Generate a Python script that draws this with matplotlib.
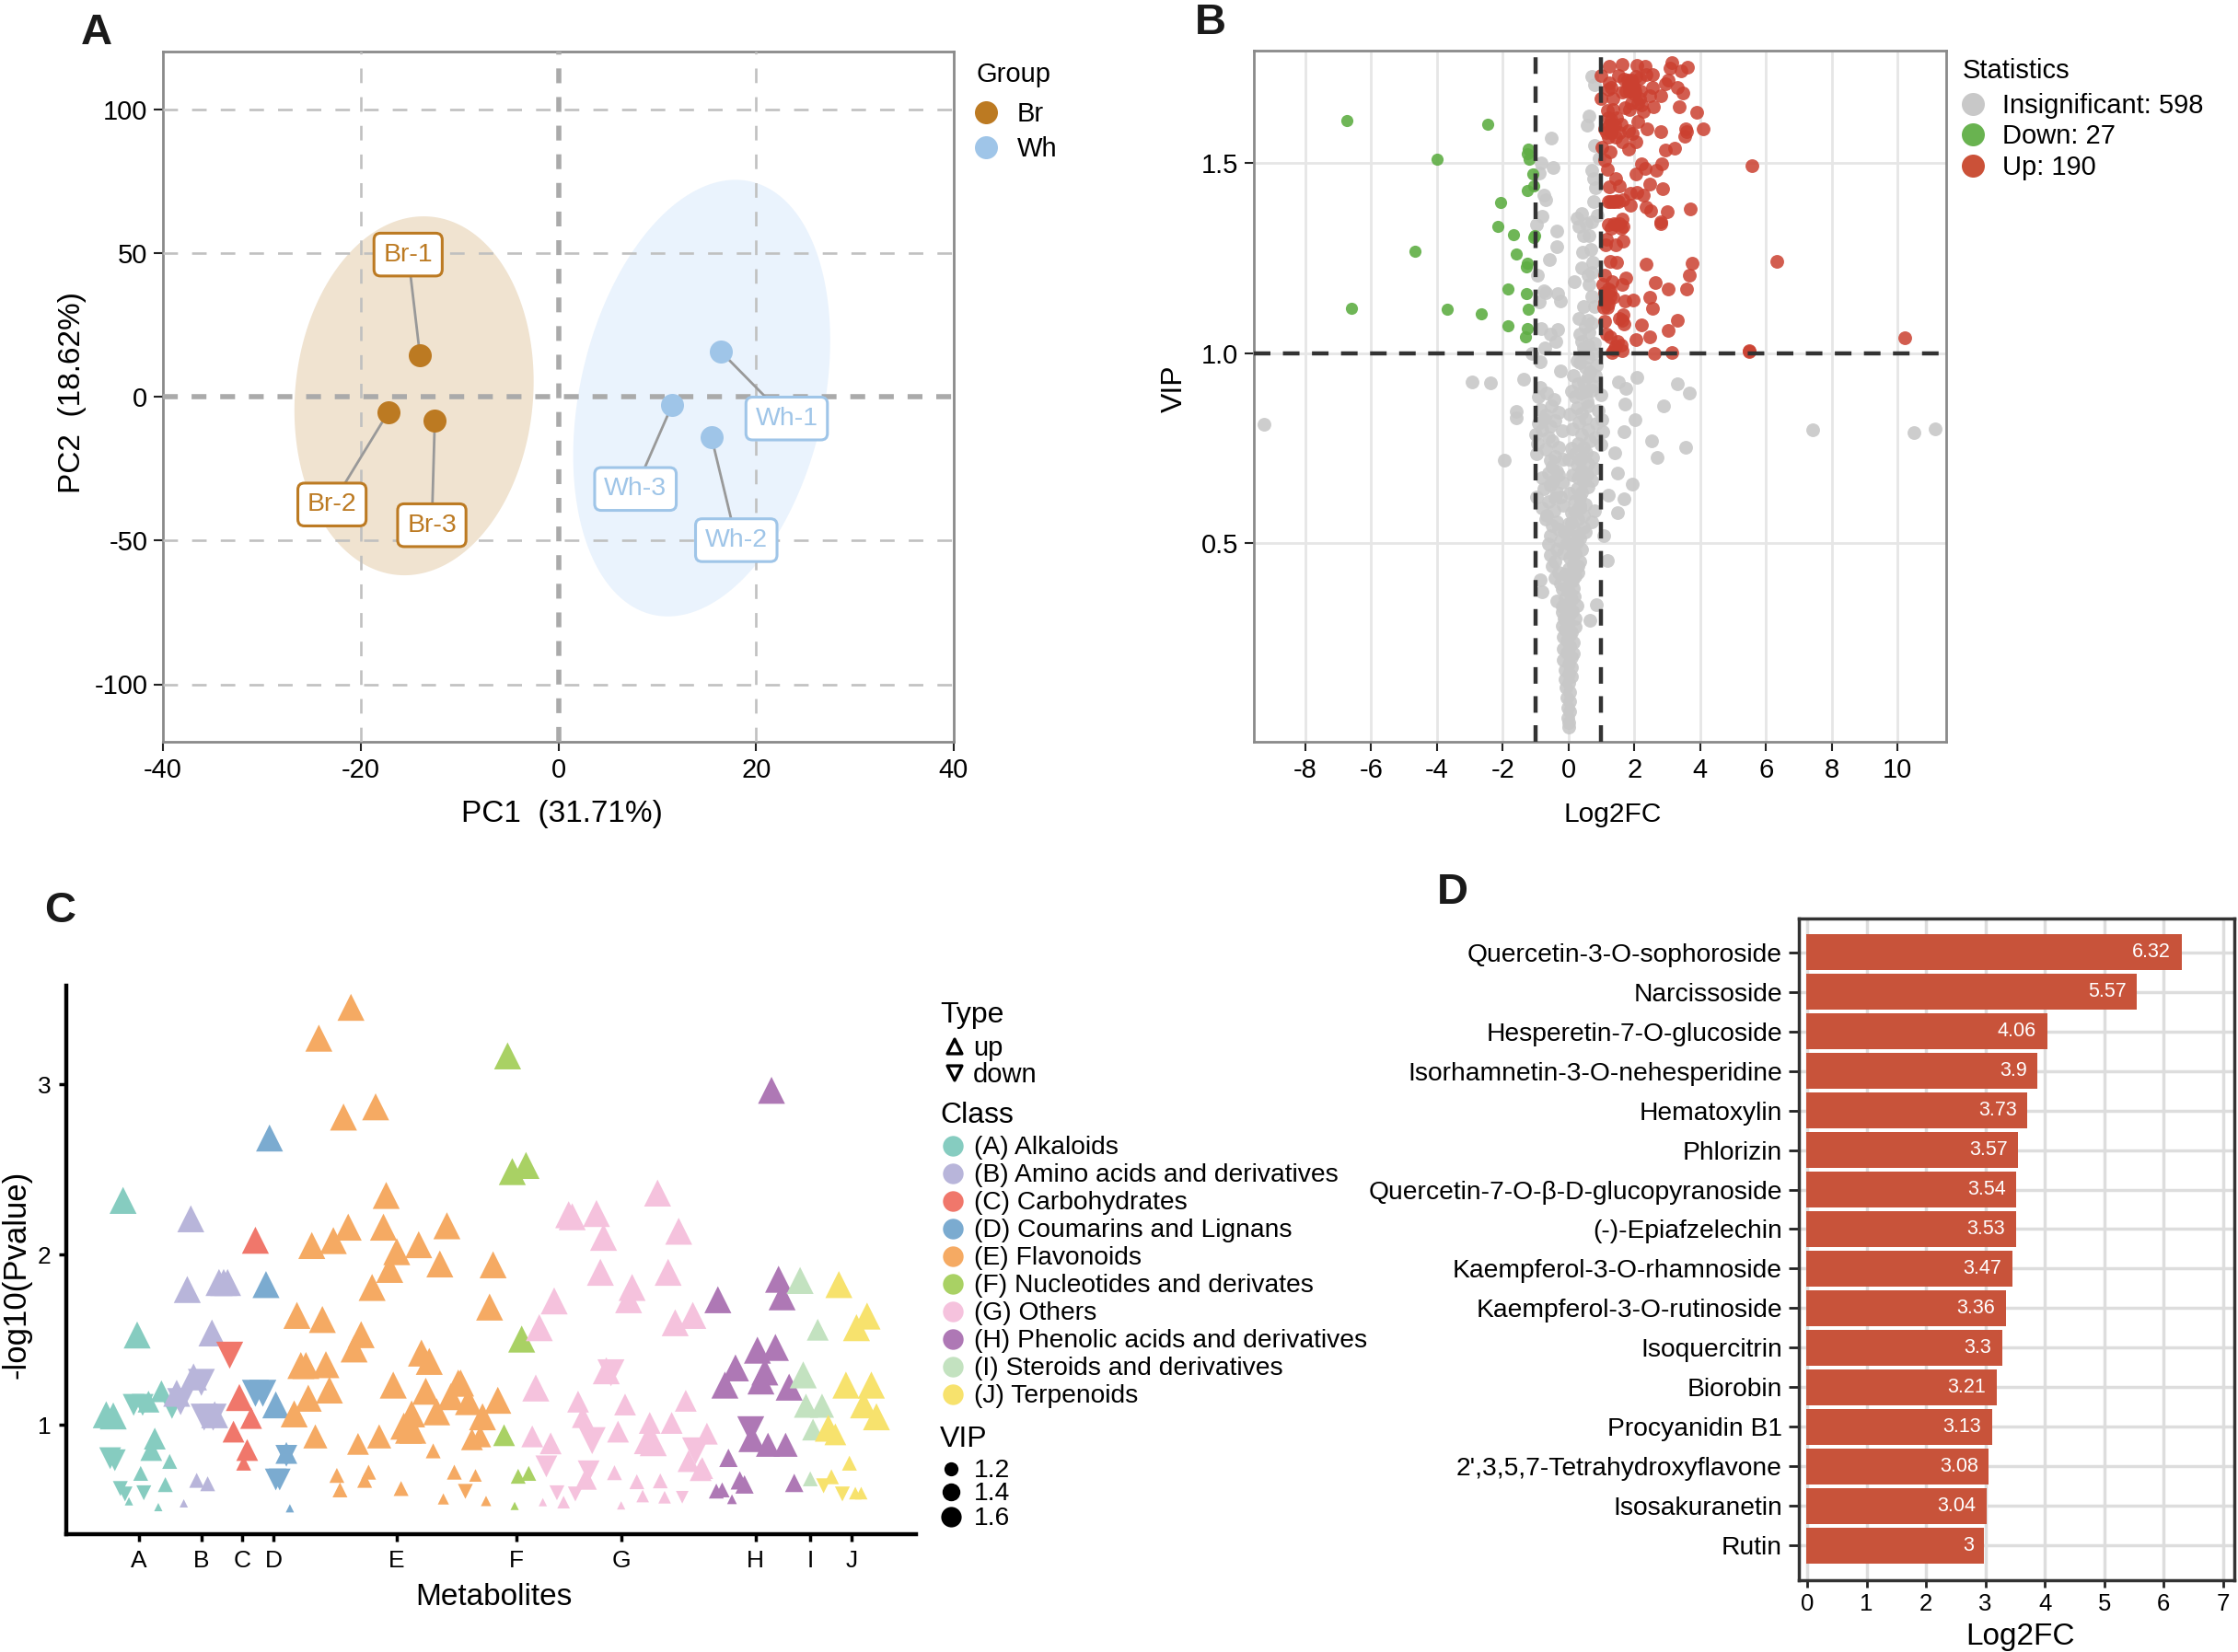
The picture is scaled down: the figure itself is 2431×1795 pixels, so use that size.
import matplotlib
matplotlib.use("Agg")
import matplotlib.pyplot as plt
import numpy as np

plt.rcParams["font.family"] = ["Liberation Sans", "DejaVu Sans"]
plt.rcParams["axes.unicode_minus"] = False

W, H = 2431, 1795
DPI = 100

## PANEL A DATA ##
pc_names = ["Br-1", "Br-2", "Br-3", "Wh-1", "Wh-2", "Wh-3"]
pc1 = [-14.0, -17.2, -12.5, 16.4, 15.5, 11.5]
pc2 = [14.4, -5.4, -8.3, 15.8, -14.2, -3.0]
label_x = [-15.2, -22.9, -12.8, 23.1, 18.0, 7.8]
label_y = [49.4, -37.5, -44.7, -7.6, -49.9, -32.1]
# centre x, centre y, half width, half height, tilt
ellipse_br = [-14.6, 0.3, 12.1, 62.4, 5.0]
ellipse_wh = [14.5, -0.5, 13.0, 75.9, 20.0]

## PANEL B DATA ##
green_pts = [(-6.74, 1.613), (-2.46, 1.603), (-4.00, 1.511), (-1.25, 1.526), (-1.21, 1.537), (-1.19, 1.511),
             (-1.08, 1.472), (-1.06, 1.441), (-1.24, 1.428), (-2.07, 1.396), (-2.14, 1.333), (-1.67, 1.311),
             (-1.06, 1.305), (-1.03, 1.309), (-4.66, 1.268), (-1.59, 1.262), (-1.25, 1.236), (-1.27, 1.228),
             (-1.83, 1.169), (-1.29, 1.156), (-6.59, 1.117), (-3.68, 1.116), (-2.64, 1.104), (-1.21, 1.116),
             (-1.83, 1.071), (-1.24, 1.065), (-1.30, 1.042)]

red_pts = [(5.58, 1.495), (6.33, 1.241), (10.23, 1.041), (5.48, 1.006), (5.50, 1.003),
           (1.24, 1.756), (1.64, 1.761), (2.09, 1.759), (2.32, 1.755), (3.15, 1.766), (3.09, 1.752), (3.41, 1.744),
           (3.63, 1.753), (1.00, 1.732), (1.51, 1.732), (1.70, 1.723), (1.91, 1.719), (2.15, 1.725), (2.36, 1.735),
           (2.56, 1.733), (2.96, 1.71), (3.04, 1.719), (3.31, 1.701), (3.49, 1.685), (1.21, 1.695), (1.24, 1.713),
           (1.64, 1.689), (1.83, 1.707), (1.99, 1.701), (1.99, 1.683), (2.15, 1.671), (2.56, 1.701), (2.48, 1.679),
           (2.81, 1.677), (1.00, 1.671), (1.35, 1.671), (2.23, 1.653), (2.59, 1.65), (3.38, 1.65), (1.35, 1.643),
           (1.72, 1.647), (1.85, 1.641), (2.27, 1.638), (3.91, 1.634), (1.30, 1.616), (1.32, 1.602), (1.11, 1.59),
           (1.59, 1.602), (1.83, 1.586), (1.95, 1.578), (2.11, 1.61), (2.40, 1.59), (2.80, 1.583), (3.57, 1.592),
           (3.59, 1.583), (3.54, 1.571), (4.08, 1.59), (1.43, 1.568), (1.64, 1.556), (1.83, 1.538), (2.04, 1.556),
           (2.96, 1.534), (3.23, 1.54), (1.02, 1.542), (1.27, 1.53), (1.11, 1.508), (1.19, 1.484), (1.43, 1.46),
           (2.23, 1.499), (2.32, 1.486), (2.04, 1.472), (2.67, 1.481), (2.83, 1.499), (1.24, 1.439), (1.56, 1.441),
           (1.88, 1.421), (2.07, 1.423), (2.48, 1.445), (2.85, 1.433), (2.27, 1.417), (1.27, 1.399), (1.46, 1.402),
           (1.67, 1.404), (1.87, 1.39), (2.36, 1.385), (2.51, 1.375), (3.01, 1.373), (3.71, 1.38), (1.21, 1.339),
           (1.43, 1.339), (1.64, 1.353), (1.67, 1.333), (2.81, 1.345), (2.81, 1.341), (1.14, 1.285), (1.43, 1.285),
           (1.67, 1.294), (1.27, 1.242), (1.46, 1.24), (2.35, 1.235), (3.75, 1.238), (3.68, 1.205), (1.11, 1.206),
           (1.03, 1.182), (1.32, 1.188), (1.75, 1.197), (1.64, 1.182), (2.65, 1.186), (3.04, 1.17), (3.59, 1.17),
           (1.27, 1.164), (1.35, 1.146), (1.11, 1.134), (1.72, 1.138), (1.96, 1.141), (2.48, 1.148), (2.56, 1.119),
           (1.56, 1.092), (1.64, 1.086), (1.70, 1.077), (1.11, 1.083), (2.23, 1.074), (3.30, 1.086), (3.04, 1.059),
           (1.27, 1.043), (2.48, 1.043), (2.04, 1.035), (1.43, 1.019), (1.64, 1.007), (1.32, 1.001), (2.60, 1.0),
           (3.15, 1.002), (1.30, 1.70), (1.45, 1.62), (1.55, 1.58), (1.75, 1.69), (1.90, 1.66), (1.18, 1.64),
           (1.20, 1.57), (1.12, 1.15), (1.22, 1.13), (1.15, 1.30), (1.30, 1.33), (1.35, 1.40), (1.52, 1.40),
           (1.80, 1.72), (1.88, 1.70), (1.95, 1.71), (1.85, 1.69), (2.02, 1.69), (1.40, 1.60), (1.25, 1.60),
           (1.22, 1.62), (1.30, 1.58), (1.15, 1.58), (1.38, 1.34), (1.55, 1.34), (1.60, 1.33), (1.20, 1.40),
           (1.40, 1.40), (1.10, 1.16), (1.22, 1.17), (1.28, 1.15), (1.18, 1.12), (1.08, 1.12), (1.38, 1.01),
           (1.50, 1.03), (1.60, 1.02), (1.66, 1.10), (1.15, 1.05), (2.10, 1.66), (2.20, 1.69), (2.05, 1.73)]

gray_outer = [(-9.24, 0.813), (7.41, 0.797), (10.51, 0.79), (11.14, 0.80), (-2.94, 0.924), (-2.38, 0.922),
              (-1.35, 0.932), (-1.95, 0.717), (-1.59, 0.847), (-1.59, 0.83), (2.09, 0.937), (1.51, 0.923),
              (1.75, 0.908), (3.30, 0.919), (3.68, 0.896), (2.89, 0.861), (1.72, 0.866), (2.03, 0.825),
              (1.69, 0.794), (2.52, 0.768), (3.55, 0.752), (2.70, 0.725), (1.40, 0.737), (1.50, 0.683),
              (1.93, 0.654), (1.70, 0.615), (1.22, 0.625), (1.50, 0.579), (1.17, 0.454), (1.08, 0.519),
              (0.84, 0.338), (0.66, 0.296)]
gray_upper = [(-0.51, 1.566), (-0.47, 1.49), (-0.82, 1.502), (-0.90, 1.474), (-0.74, 1.417), (-0.69, 1.405),
              (-0.98, 1.339), (-0.35, 1.321), (-0.35, 1.281), (-0.58, 1.246), (-0.93, 1.206), (-0.74, 1.164),
              (-0.34, 1.158), (-0.24, 1.138), (-0.90, 1.134), (-0.82, 1.064), (-0.34, 1.062), (-0.37, 1.031),
              (-0.71, 1.013), (-1.11, 0.999), (-0.87, 0.977), (-0.24, 0.953), (0.71, 1.729), (0.79, 1.707),
              (0.63, 1.626), (0.58, 1.60), (0.79, 1.548), (0.92, 1.514), (0.71, 1.481), (0.76, 1.46),
              (0.82, 1.435), (0.76, 1.399), (0.39, 1.369), (0.31, 1.333), (0.87, 1.363), (0.63, 1.309),
              (0.43, 1.267), (0.68, 1.273), (0.39, 1.224), (0.71, 1.212), (0.19, 1.188), (0.63, 1.182),
              (0.47, 1.122), (0.79, 1.122), (0.31, 1.092), (0.59, 1.086), (0.34, 1.049), (0.63, 1.055),
              (0.79, 1.025), (0.47, 1.013), (0.25, 1.355), (0.55, 1.34), (0.72, 1.345), (0.45, 1.31),
              (0.75, 1.24), (0.60, 1.205), (0.70, 1.15), (0.50, 1.07), (0.70, 1.08), (0.40, 1.03),
              (0.60, 1.02), (-0.80, 1.36), (-0.70, 1.16), (-0.55, 1.05)]
gray_lower = [(0.35, 0.975), (0.52, 0.962), (0.66, 0.951), (0.86, 0.968), (0.47, 0.925), (0.60, 0.938), (0.74, 0.915),
              (-0.85, 0.91), (0.21, 0.885), (0.36, 0.895), (0.56, 0.872), (0.71, 0.902), (1.00, 0.89), (-0.91, 0.885),
              (-0.66, 0.895), (-0.45, 0.878), (0.26, 0.855), (0.41, 0.842), (0.61, 0.862), (0.90, 0.848), (-0.85, 0.852),
              (-0.70, 0.838), (-0.51, 0.862), (-0.30, 0.845), (0.31, 0.818), (0.51, 0.828), (0.85, 0.815), (1.02, 0.825),
              (-0.92, 0.815), (-0.76, 0.828), (-0.56, 0.808), (-0.41, 0.822), (0.40, 0.785), (0.60, 0.798), (0.81, 0.778),
              (1.05, 0.792), (-1.01, 0.785), (-0.81, 0.798), (-0.61, 0.778), (-0.20, 0.795), (0.30, 0.762), (0.45, 0.752),
              (0.66, 0.768), (1.00, 0.758), (-0.95, 0.762), (-0.70, 0.748), (-0.50, 0.768), (-0.30, 0.752), (0.20, 0.735),
              (0.40, 0.722), (0.55, 0.738), (0.75, 0.725), (-0.96, 0.735), (-0.55, 0.718), (-0.40, 0.728), (0.25, 0.705),
              (0.41, 0.692), (0.60, 0.708), (0.80, 0.695), (-0.50, 0.702), (-0.35, 0.688), (0.30, 0.672), (0.45, 0.662),
              (0.56, 0.678), (0.70, 0.665), (-0.80, 0.672), (-0.60, 0.685), (-0.46, 0.662), (-0.30, 0.678), (0.25, 0.642),
              (0.40, 0.632), (0.60, 0.648), (-0.76, 0.642), (-0.55, 0.652), (-0.35, 0.632), (0.20, 0.612), (0.35, 0.622),
              (0.50, 0.602), (-0.96, 0.622), (-0.60, 0.608), (-0.40, 0.618), (0.20, 0.582), (0.35, 0.592), (0.46, 0.572),
              (0.80, 0.585), (-0.80, 0.592), (-0.66, 0.572), (-0.45, 0.585), (0.10, 0.552), (0.30, 0.562), (0.45, 0.542),
              (0.70, 0.555), (-0.70, 0.562), (-0.50, 0.545), (-0.36, 0.555), (0.05, 0.522), (0.20, 0.532), (0.35, 0.512),
              (0.50, 0.528), (-0.55, 0.518), (-0.30, 0.535), (0.10, 0.492), (0.25, 0.502), (0.40, 0.482), (-0.60, 0.498),
              (-0.35, 0.482), (-0.25, 0.505), (0.05, 0.462), (0.20, 0.472), (0.35, 0.452), (-0.55, 0.468), (-0.40, 0.452),
              (-0.15, 0.472), (0.00, 0.432), (0.15, 0.442), (0.30, 0.422), (-0.50, 0.438), (-0.30, 0.422), (0.05, 0.402),
              (0.20, 0.412), (-0.85, 0.402), (-0.40, 0.408), (-0.25, 0.392), (-0.10, 0.418), (0.00, 0.372), (0.15, 0.382),
              (-0.80, 0.372), (-0.20, 0.378), (0.00, 0.342), (0.10, 0.352), (0.25, 0.335), (-0.35, 0.348), (-0.20, 0.332),
              (-0.10, 0.355), (0.05, 0.312), (0.20, 0.302), (-0.20, 0.318), (-0.10, 0.298), (-0.20, 0.282), (-0.10, 0.272),
              (0.00, 0.288), (0.10, 0.265), (0.20, 0.278), (-0.15, 0.252), (-0.05, 0.242), (0.05, 0.258), (0.15, 0.238),
              (-0.15, 0.222), (-0.05, 0.212), (0.05, 0.228), (0.15, 0.208), (-0.15, 0.192), (0.00, 0.182), (0.10, 0.198),
              (-0.10, 0.165), (0.02, 0.155), (0.10, 0.172), (-0.10, 0.142), (0.00, 0.132), (0.08, 0.148), (-0.08, 0.118),
              (0.04, 0.108), (-0.05, 0.092), (0.05, 0.082), (-0.03, 0.066), (0.04, 0.055), (-0.02, 0.04), (0.02, 0.028),
              (0.00, 0.015)]
gray_centre = [(0.10, 0.90), (0.05, 0.84), (0.12, 0.80), (0.08, 0.75), (0.00, 0.72), (0.12, 0.68), (0.05, 0.63),
               (0.10, 0.58), (0.02, 0.55), (-0.05, 0.50), (-0.12, 0.53), (-0.15, 0.60), (-0.20, 0.66), (-0.15, 0.72),
               (-0.25, 0.62), (0.15, 0.94), (0.25, 0.98), (0.45, 1.00), (0.60, 0.99), (0.75, 1.00), (0.82, 0.94),
               (0.30, 0.92), (0.55, 0.90), (0.35, 0.72), (0.50, 0.68), (0.35, 0.60), (0.28, 0.52), (0.20, 0.50),
               (0.12, 0.47), (0.28, 0.44), (0.18, 0.36), (-0.05, 0.38), (0.12, 0.40), (-0.12, 0.30), (0.12, 0.32)]

## PANEL C DATA, (rank, -log10 p, VIP) ##
class_names = ["(A) Alkaloids", "(B) Amino acids and derivatives", "(C) Carbohydrates", "(D) Coumarins and Lignans",
               "(E) Flavonoids", "(F) Nucleotides and derivates", "(G) Others", "(H) Phenolic acids and derivatives",
               "(I) Steroids and derivatives", "(J) Terpenoids"]
class_colors = ["#86CCC0", "#B8B5DA", "#F0776B", "#7BABD0", "#F5AA63", "#A9D164", "#F5C2DD", "#AE78B5", "#C3E2C0", "#F7E26D"]
class_ticks = ["A", "B", "C", "D", "E", "F", "G", "H", "I", "J"]
class_tick_pos = [18.6, 34.5, 45.0, 53.0, 84.4, 115.0, 141.8, 176.0, 190.0, 200.5]

up_a = [(14.5, 2.318, 1.7), (18.1, 1.528, 1.7), (10.2, 1.06, 1.7), (12.0, 1.053, 1.7), (21.0, 1.137, 1.52),
        (24.3, 1.198, 1.52), (22.6, 0.92, 1.52), (21.7, 0.853, 1.52), (26.4, 0.786, 1.28), (19.0, 0.716, 1.28),
        (25.3, 0.65, 1.28), (16.0, 0.552, 1.05), (23.5, 0.518, 1.05)]
down_a = [(17.2, 1.118, 1.52), (19.5, 1.118, 1.52), (27.0, 1.10, 1.52), (11.2, 0.805, 1.52), (12.4, 0.793, 1.52),
          (13.8, 0.627, 1.28), (15.0, 0.595, 1.28), (19.8, 0.602, 1.28)]
up_b = [(31.8, 2.21, 1.7), (30.9, 1.795, 1.7), (39.0, 1.836, 1.7), (40.2, 1.836, 1.7), (41.2, 1.836, 1.7),
        (37.2, 1.54, 1.7), (32.5, 1.282, 1.7), (28.2, 1.186, 1.7), (37.9, 1.06, 1.7), (33.3, 0.675, 1.28),
        (36.1, 0.655, 1.28), (30.0, 0.54, 1.05)]
down_b = [(34.5, 1.25, 1.7), (29.2, 1.137, 1.7), (35.2, 1.046, 1.7), (37.5, 1.046, 1.7)]
up_c = [(48.3, 2.084, 1.7), (44.2, 1.161, 1.7), (47.2, 1.041, 1.52), (42.7, 0.961, 1.52), (46.2, 0.853, 1.52), (45.3, 0.776, 1.28)]
down_c = [(41.7, 1.414, 1.7)]
up_d = [(51.9, 2.684, 1.7), (51.0, 1.824, 1.7), (53.5, 1.118, 1.7), (56.2, 0.836, 1.52), (57.1, 0.511, 1.05)]
down_d = [(48.3, 1.186, 1.7), (50.2, 1.186, 1.7), (56.2, 0.819, 1.52), (53.5, 0.68, 1.52), (54.5, 0.68, 1.52)]
up_e = [(72.7, 3.451, 1.7), (64.5, 3.27, 1.7), (70.8, 2.807, 1.7), (79.0, 2.867, 1.7), (81.7, 2.347, 1.7),
        (62.7, 2.053, 1.7), (68.2, 2.082, 1.7), (72.0, 2.161, 1.7), (81.0, 2.161, 1.7), (90.0, 2.058, 1.7),
        (97.2, 2.169, 1.7), (84.4, 2.017, 1.7), (82.6, 1.913, 1.7), (95.4, 1.945, 1.7), (109.0, 1.94, 1.7),
        (78.1, 1.807, 1.7), (108.1, 1.692, 1.7), (58.9, 1.643, 1.7), (65.4, 1.619, 1.7), (75.3, 1.53, 1.7),
        (73.5, 1.446, 1.7), (90.7, 1.422, 1.7), (92.7, 1.373, 1.7), (59.9, 1.349, 1.7), (61.2, 1.349, 1.7),
        (66.3, 1.354, 1.7), (83.5, 1.234, 1.7), (67.2, 1.205, 1.7), (61.8, 1.157, 1.7), (91.8, 1.198, 1.7),
        (100.1, 1.246, 1.7), (100.7, 1.246, 1.7), (98.2, 1.166, 1.7), (102.7, 1.137, 1.7), (110.2, 1.145, 1.7),
        (58.2, 1.065, 1.7), (88.2, 1.065, 1.7), (94.6, 1.077, 1.7), (106.3, 1.048, 1.7), (86.2, 0.993, 1.7),
        (88.5, 0.969, 1.7), (87.4, 0.969, 1.7), (63.6, 0.933, 1.6), (79.9, 0.933, 1.6), (74.5, 0.889, 1.52),
        (103.6, 0.916, 1.52), (105.7, 0.933, 1.52), (93.7, 0.848, 1.28), (69.1, 0.704, 1.28), (77.2, 0.723, 1.28),
        (76.2, 0.675, 1.28), (69.9, 0.619, 1.28), (85.5, 0.627, 1.28), (99.1, 0.723, 1.28), (104.5, 0.704, 1.2),
        (96.3, 0.566, 1.15), (107.2, 0.554, 1.12)]
down_e = [(101.8, 0.612, 1.28)]
up_f = [(112.7, 3.166, 1.7), (113.9, 2.487, 1.7), (117.4, 2.523, 1.7), (116.3, 1.504, 1.7), (111.8, 0.94, 1.52),
        (115.4, 0.699, 1.28), (118.1, 0.716, 1.28), (114.5, 0.525, 1.05)]
down_f = []
up_g = [(128.3, 2.234, 1.7), (129.2, 2.222, 1.7), (135.4, 2.241, 1.7), (137.2, 2.101, 1.7), (151.0, 2.361, 1.7),
        (156.4, 2.137, 1.7), (136.4, 1.896, 1.7), (153.7, 1.896, 1.7), (144.5, 1.807, 1.7), (143.6, 1.735, 1.7),
        (124.6, 1.728, 1.7), (155.5, 1.6, 1.7), (160.0, 1.643, 1.7), (120.8, 1.571, 1.7), (137.9, 1.318, 1.7),
        (119.9, 1.217, 1.7), (130.7, 1.137, 1.52), (142.7, 1.12, 1.52), (158.2, 1.142, 1.52), (131.9, 1.046, 1.52),
        (149.0, 1.012, 1.52), (154.6, 1.012, 1.52), (140.9, 0.961, 1.52), (119.0, 0.933, 1.52), (123.7, 0.892, 1.52),
        (148.4, 0.908, 1.7), (149.9, 0.896, 1.7), (163.6, 0.949, 1.52), (158.9, 0.788, 1.52), (162.4, 0.747, 1.52),
        (162.0, 0.735, 1.52), (132.7, 0.684, 1.52), (140.0, 0.72, 1.28), (145.7, 0.667, 1.28), (151.7, 0.672, 1.28),
        (147.2, 0.583, 1.2), (152.8, 0.576, 1.2), (127.0, 0.547, 1.2), (121.7, 0.547, 1.05), (141.7, 0.528, 1.05)]
down_g = [(139.1, 1.306, 1.7), (134.3, 0.908, 1.7), (160.7, 0.848, 1.7), (122.6, 0.757, 1.52), (133.4, 0.728, 1.52),
          (125.3, 0.602, 1.28), (130.0, 0.595, 1.28), (157.3, 0.576, 1.2)]
up_h = [(180.1, 2.964, 1.7), (181.9, 1.855, 1.7), (182.8, 1.752, 1.7), (166.4, 1.735, 1.7), (176.5, 1.439, 1.7),
        (181.1, 1.455, 1.7), (170.9, 1.335, 1.7), (178.4, 1.311, 1.7), (177.4, 1.258, 1.7), (168.2, 1.234, 1.7),
        (184.6, 1.222, 1.7), (175.1, 0.92, 1.7), (179.2, 0.884, 1.6), (183.7, 0.884, 1.6), (169.1, 0.807, 1.4),
        (172.0, 0.675, 1.4), (173.2, 0.651, 1.4), (185.9, 0.66, 1.4), (166.0, 0.612, 1.28), (167.5, 0.619, 1.28),
        (170.0, 0.564, 1.1)]
down_h = [(174.7, 0.973, 1.7)]
up_i = [(187.4, 1.848, 1.7), (191.9, 1.559, 1.52), (188.2, 1.294, 1.7), (188.9, 1.113, 1.6), (193.0, 1.113, 1.6),
        (190.7, 0.973, 1.52), (190.0, 0.684, 1.28)]
down_i = []
up_j = [(197.3, 1.824, 1.7), (204.5, 1.639, 1.7), (201.8, 1.571, 1.7), (199.1, 1.234, 1.7), (205.6, 1.234, 1.7),
        (203.6, 1.118, 1.7), (206.9, 1.048, 1.7), (194.6, 0.981, 1.7), (196.4, 0.945, 1.52), (200.0, 0.776, 1.28),
        (195.4, 0.696, 1.28), (201.5, 0.6, 1.2), (203.0, 0.6, 1.2)]
down_j = [(193.4, 0.643, 1.28), (198.2, 0.595, 1.28)]
up_by_class = [up_a, up_b, up_c, up_d, up_e, up_f, up_g, up_h, up_i, up_j]
down_by_class = [down_a, down_b, down_c, down_d, down_e, down_f, down_g, down_h, down_i, down_j]

## PANEL D DATA ##
compounds = ["Quercetin-3-O-sophoroside", "Narcissoside", "Hesperetin-7-O-glucoside", "Isorhamnetin-3-O-nehesperidine",
             "Hematoxylin", "Phlorizin", "Quercetin-7-O-β-D-glucopyranoside", "(-)-Epiafzelechin",
             "Kaempferol-3-O-rhamnoside", "Kaempferol-3-O-rutinoside", "Isoquercitrin", "Biorobin", "Procyanidin B1",
             "2',3,5,7-Tetrahydroxyflavone", "Isosakuranetin", "Rutin"]
log2fc_top = [6.32, 5.57, 4.06, 3.9, 3.73, 3.57, 3.54, 3.53, 3.47, 3.36, 3.3, 3.21, 3.13, 3.08, 3.04, 3]


## FUNCTIONS ##

def add_px_axes(fig, left, top, right, bottom):
    return fig.add_axes([left/W, 1 - bottom/H, (right-left)/W, (bottom-top)/H])


def draw_ellipse(ax, params, color):
    cx, cy, a, b, tilt = params
    t = np.linspace(0, 2*np.pi, 300)
    ax.fill(cx + a*np.cos(t), cy + tilt*np.cos(t) + np.sqrt(b**2 - tilt**2)*np.sin(t), color=color, lw=0, zorder=2)


def vip_to_size(vip):
    return (6.5 + (np.asarray(vip) - 1.05)*22.5)**2


fig = plt.figure(figsize=(W/DPI, H/DPI), dpi=DPI)
TICK_SIZE = 21

## PANEL A ##
ax_a = add_px_axes(fig, 177, 56, 1036, 806)
ax_a.set_xlim(-40, 40)
ax_a.set_ylim(-120, 120)
draw_ellipse(ax_a, ellipse_br, "#F0E3D0")
draw_ellipse(ax_a, ellipse_wh, "#EAF3FD")
for x in [-20, 20]:
    ax_a.axvline(x, color="#C0C0C0", lw=1.9, dashes=(6.0, 5.8), zorder=3)
for y in [-100, -50, 50, 100]:
    ax_a.axhline(y, color="#C0C0C0", lw=1.9, dashes=(6.0, 5.8), zorder=3)
ax_a.axvline(0, color="#AAAAAA", lw=4, dashes=(2.9, 2.7), zorder=3)
ax_a.axhline(0, color="#AAAAAA", lw=4, dashes=(2.9, 2.7), zorder=3)
for i, name in enumerate(pc_names):
    col = "#BC7A22" if name.startswith("Br") else "#9FC5E8"
    ax_a.plot([pc1[i], label_x[i]], [pc2[i], label_y[i]], color="#999999", lw=2, zorder=4)
    ax_a.scatter(pc1[i], pc2[i], s=324, color=col, lw=0, zorder=5)
    ax_a.text(label_x[i], label_y[i], name, color=col, fontsize=20.5, ha="center", va="center", zorder=6,
              bbox=dict(boxstyle="round,pad=0.36,rounding_size=0.25", fc="white", ec=col, lw=2.2))
ax_a.set_xticks([-40, -20, 0, 20, 40])
ax_a.set_yticks([-100, -50, 0, 50, 100])
ax_a.tick_params(labelsize=TICK_SIZE, length=7, width=1.5, color="#222222", pad=5)
for s in ax_a.spines.values():
    s.set_color("#8A8A8A")
    s.set_linewidth(2)

## PANEL B ##
ax_b = add_px_axes(fig, 1362, 55, 2114, 806)
ax_b.set_xlim(-9.56, 11.48)
ax_b.set_ylim(-0.024, 1.797)
ax_b.set_xticks(range(-8, 11, 2))
ax_b.set_yticks([0.5, 1.0, 1.5])
ax_b.grid(True, color="#E6E6E6", lw=2)
ax_b.set_axisbelow(True)
gray_pts = np.array(gray_outer + gray_upper + gray_lower + gray_centre)
green_arr = np.array(green_pts)
red_arr = np.array(red_pts)
ax_b.scatter(gray_pts[:, 0], gray_pts[:, 1], s=115, color="#C8C8C8", alpha=0.9, lw=0, zorder=2)
ax_b.scatter(green_arr[:, 0], green_arr[:, 1], s=90, color="#5FAE45", alpha=0.9, lw=0, zorder=3)
ax_b.scatter(red_arr[:, 0], red_arr[:, 1], s=115, color="#CB4030", alpha=0.85, lw=0, zorder=3)
for x in [-1, 1]:
    ax_b.axvline(x, color="#333333", lw=3.2, dashes=(4.05, 3.05), zorder=4)
ax_b.axhline(1, color="#333333", lw=3.2, dashes=(4.05, 3.05), zorder=4)
ax_b.tick_params(labelsize=TICK_SIZE, length=7, width=1.5, color="#222222", pad=5)
for s in ax_b.spines.values():
    s.set_color("#8A8A8A")
    s.set_linewidth(2)

## PANEL C ##
ax_c = add_px_axes(fig, 72, 1071, 995, 1667)
ax_c.set_xlim(0, 217)
ax_c.set_ylim(0.359, 3.578)
for i, col in enumerate(class_colors):
    if up_by_class[i]:
        arr = np.array(up_by_class[i])
        ax_c.scatter(arr[:, 0], arr[:, 1], s=vip_to_size(arr[:, 2]), marker="^", color=col, lw=0)
    if down_by_class[i]:
        arr = np.array(down_by_class[i])
        ax_c.scatter(arr[:, 0], arr[:, 1], s=vip_to_size(arr[:, 2]), marker="v", color=col, lw=0)
ax_c.set_xticks(class_tick_pos)
ax_c.set_xticklabels(class_ticks)
ax_c.set_yticks([1, 2, 3])
ax_c.tick_params(labelsize=19, length=6, width=2.5, pad=6)
for side in ["top", "right"]:
    ax_c.spines[side].set_visible(False)
for side in ["left", "bottom"]:
    ax_c.spines[side].set_linewidth(3.2)

## PANEL D ##
ax_d = add_px_axes(fig, 1954, 998, 2427, 1717)
bar_y = np.arange(len(compounds), 0, -1)
ax_d.set_xlim(-0.14, 7.19)
ax_d.set_ylim(0.12, 16.855)
ax_d.grid(True, color="#DDDDDD", lw=2.5)
ax_d.set_axisbelow(True)
ax_d.barh(bar_y, log2fc_top, height=0.9, left=-0.02, color="#C8533A")
for y, v in zip(bar_y, log2fc_top):
    ax_d.text(v - 0.2, y, f"{v:g}", color="white", fontsize=15.5, ha="right", va="center")
ax_d.set_yticks(bar_y)
ax_d.set_yticklabels(compounds)
ax_d.set_xticks(range(0, 8))
ax_d.tick_params(axis="y", labelsize=20.3, length=8, width=2, color="#222222", pad=5)
ax_d.tick_params(axis="x", labelsize=18.5, length=6, width=2, color="#222222", pad=4)
for s in ax_d.spines.values():
    s.set_color("#333333")
    s.set_linewidth(2.5)

## OVERLAY, LEGENDS AND LABELS IN PIXELS ##
ov = fig.add_axes([0, 0, 1, 1], facecolor="none")
ov.set_xlim(0, W)
ov.set_ylim(H, 0)
ov.axis("off")


def put(x, y, s, size=21, **kw):
    kw.setdefault("ha", "left")
    kw.setdefault("va", "center")
    ov.text(x, y, s, fontsize=size, **kw)


for x, y, s in [(105, 36, "A"), (1315, 25, "B"), (65, 990, "C"), (1578, 970, "D")]:
    put(x, y, s, size=34, fontweight="bold", ha="center", color="#1a1a1a")

put(610, 885, "PC1  (31.71%)", ha="center", size=24)
put(78, 427, "PC2  (18.62%)", ha="center", rotation=90, size=24)
put(1752, 885, "Log2FC", ha="center", size=21.5)
put(1276, 422, "VIP", ha="center", rotation=90, size=23)
put(536, 1735, "Metabolites", ha="center", size=24)
put(18, 1385, "-log10(Pvalue)", ha="center", rotation=90, size=25)
put(2194, 1778, "Log2FC", ha="center", size=24)

# group legend
put(1060, 81, "Group", size=21)
for y, col, s in [(122, "#BC7A22", "Br"), (160, "#9FC5E8", "Wh")]:
    ov.scatter(1071, y, s=324, color=col, lw=0)
    put(1105, y + 2, s, size=21)

# statistics legend
put(2132, 77, "Statistics", size=21)
for y, col, s in [(113, "#C8C8C8", "Insignificant: 598"), (146, "#69B350", "Down: 27"), (180, "#CB5138", "Up: 190")]:
    ov.scatter(2143, y, s=324, color=col, lw=0)
    put(2175, y + 2, s, size=21)

# type legend
put(1021, 1103, "Type", size=23)
ov.scatter(1037, 1137, s=130, marker="^", facecolor="none", edgecolor="black", lw=2.4)
put(1057, 1139, "up", size=21)
ov.scatter(1037, 1166, s=130, marker="v", facecolor="none", edgecolor="black", lw=2.4)
put(1057, 1168, "down", size=21)

# class legend
put(1021, 1212, "Class", size=23)
for i, name in enumerate(class_names):
    y = 1245 + i*30
    ov.scatter(1035, y, s=260, color=class_colors[i], lw=0)
    put(1058, y + 2, name, size=20.3)

# vip legend
put(1021, 1564, "VIP", size=23)
for y, d, s in [(1596, 11, "1.2"), (1621, 14, "1.4"), (1648, 16, "1.6")]:
    ov.scatter(1033, y, s=d**2, color="black", lw=0)
    put(1058, y + 2, s, size=20.3)

fig.savefig("out.png", dpi=DPI)
